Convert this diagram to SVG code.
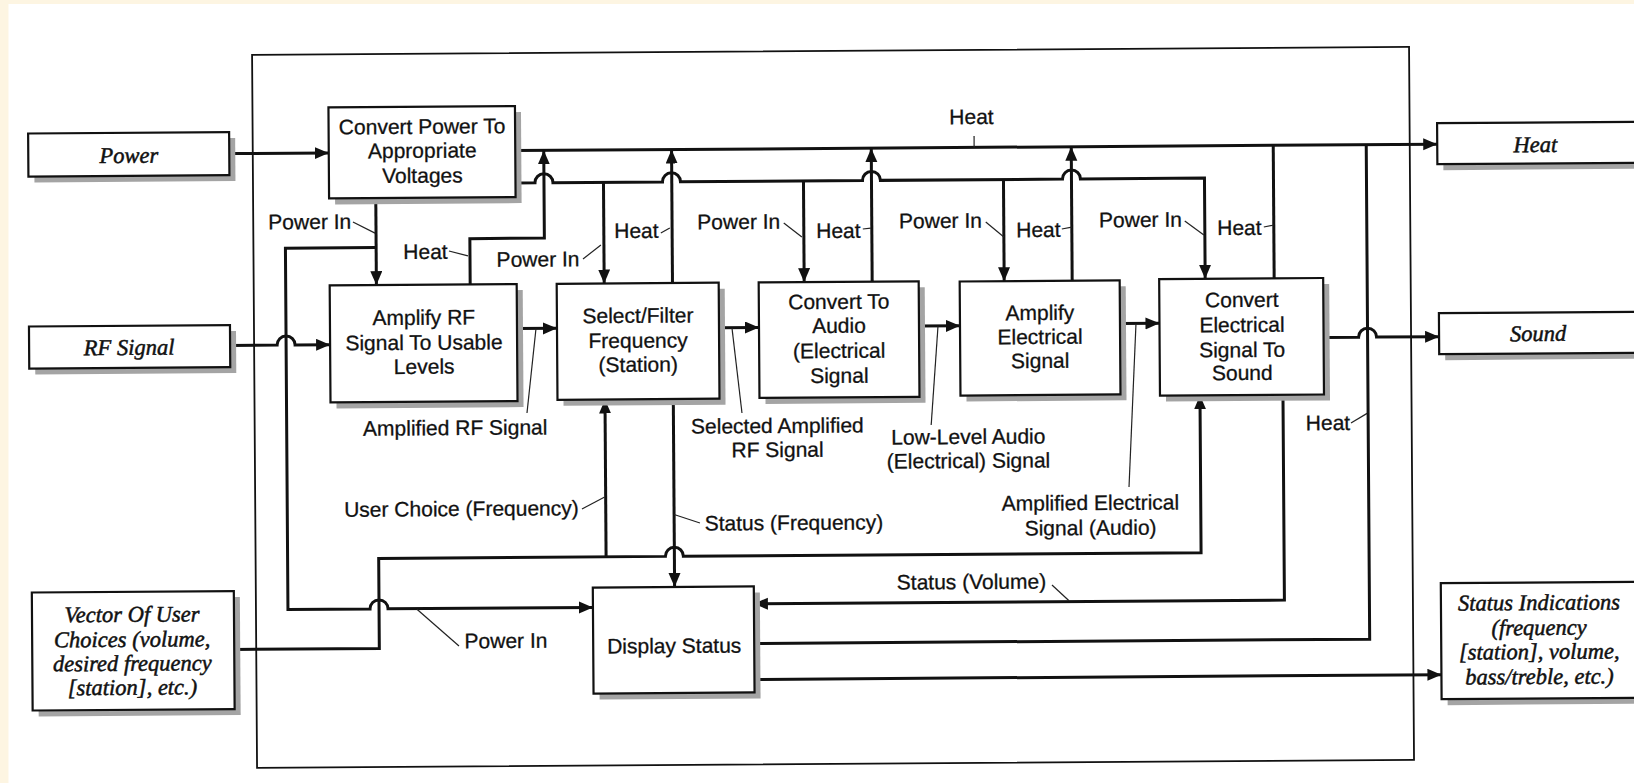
<svg xmlns="http://www.w3.org/2000/svg" width="1634" height="783" viewBox="0 0 1634 783">
<defs>
<style>
.bx{fill:#fff;stroke:#111;stroke-width:2.2}
.sh{fill:#a4a4a4}
.ob{fill:none;stroke:#111;stroke-width:1.8}
.ln{fill:none;stroke:#111;stroke-width:3}
.ld{fill:none;stroke:#222;stroke-width:1.2}
.t{font-family:"Liberation Sans",Arial,sans-serif;font-size:21px;fill:#111;stroke:#111;stroke-width:0.3;text-anchor:middle}
.ti{font-family:"Liberation Serif","Times New Roman",serif;font-style:italic;font-size:22.5px;fill:#111;stroke:#111;stroke-width:0.5;text-anchor:middle}
</style>
<marker id="ah" markerUnits="userSpaceOnUse" markerWidth="16" markerHeight="14" refX="14" refY="6" orient="auto"><path d="M0,0 L14,6 L0,12 z" fill="#111"/></marker>
</defs>
<rect x="0" y="0" width="1634" height="783" fill="#fdf5e2"/>
<rect x="8.5" y="4" width="1626" height="779" fill="#fff"/>
<g transform="rotate(-0.4 820 400)">
<rect id="boundary" class="ob" x="254.5" y="51" width="1157" height="713"/>

<g id="connectors">
<path class="ln" d="M231 149.5 H330.5" marker-end="url(#ah)"/>
<path class="ln" d="M516.7 148.5 H1439" marker-end="url(#ah)"/>
<path class="ln" d="M516.7 180.8 H536.5 A9 9 0 0 1 554.5 180.8 H664 A9 9 0 0 1 682 180.8 H864 A9 9 0 0 1 882 180.8 H1064 A9 9 0 0 1 1082 180.8 H1206 V281.5" marker-end="url(#ah)"/>
<path class="ln" d="M377.2 195 V282" marker-end="url(#ah)"/>
<path class="ln" d="M605 180.8 V282" marker-end="url(#ah)"/>
<path class="ln" d="M805 180.8 V282" marker-end="url(#ah)"/>
<path class="ln" d="M1005 180.8 V282.5" marker-end="url(#ah)"/>
<path class="ln" d="M377.2 244.4 H286.5 V605.8 H368.6 A9 9 0 0 1 386.6 605.8 H591.5" marker-end="url(#ah)"/>
<path class="ln" d="M230.5 341.3 H277.5 A9 9 0 0 1 295.5 341.3 H330.5" marker-end="url(#ah)"/>
<path class="ln" d="M517.5 326.5 H557.5" marker-end="url(#ah)"/>
<path class="ln" d="M719.5 327 H759.5" marker-end="url(#ah)"/>
<path class="ln" d="M919.5 326.8 H960.5" marker-end="url(#ah)"/>
<path class="ln" d="M1120.5 325.7 H1160" marker-end="url(#ah)"/>
<path class="ln" d="M1324 341 H1359 A9 9 0 0 1 1377 341 H1439.5" marker-end="url(#ah)"/>
<path class="ln" d="M471 282 V236.2 H545.5 V148.5" marker-end="url(#ah)"/>
<path class="ln" d="M673.3 282 V148.5" marker-end="url(#ah)"/>
<path class="ln" d="M873 282 V148.5" marker-end="url(#ah)"/>
<path class="ln" d="M1073 282.5 V148.5" marker-end="url(#ah)"/>
<path class="ln" d="M1275 281.5 V148.5"/>
<path class="ln" d="M752.5 643 H1368 V148.5"/>
<path class="ln" d="M232.5 645.4 H377.6 V555.3 H664.3 A9 9 0 0 1 682.3 555.3 H1200 V398" marker-end="url(#ah)"/>
<path class="ln" d="M605 555.3 V398" marker-end="url(#ah)"/>
<path class="ln" d="M673.3 398 V586" marker-end="url(#ah)"/>
<path class="ln" d="M1283 398 V603.3 H752.5" marker-end="url(#ah)"/>
<path class="ln" d="M752.5 679 H1439.5" marker-end="url(#ah)"/>
<path class="ld" d="M354.2 218.7 L376.2 230"/>
<path class="ld" d="M450 248.4 L469 253.5"/>
<path class="ld" d="M584 257.3 L602 243.5"/>
<path class="ld" d="M662 231.9 L671 227"/>
<path class="ld" d="M785 222.7 L803 236.9"/>
<path class="ld" d="M864 229.3 L872 228.4"/>
<path class="ld" d="M987 223.2 L1005 238.3"/>
<path class="ld" d="M1063 230.7 L1073 228.8"/>
<path class="ld" d="M1186 223.6 L1205 237.7"/>
<path class="ld" d="M1265 230.1 L1275 228.2"/>
<path class="ld" d="M975.9 137 L975.9 148.5"/>
<path class="ld" d="M526.9 411 L536.5 326.5"/>
<path class="ld" d="M732.5 327.5 L741.9 412.5"/>
<path class="ld" d="M938.5 327 L931 425.8"/>
<path class="ld" d="M1136.5 326 L1128.4 489.2"/>
<path class="ld" d="M581.2 507.3 L604 495.5"/>
<path class="ld" d="M699.1 522.2 L673.3 513.5"/>
<path class="ld" d="M1050.7 586.6 L1067.6 602.5"/>
<path class="ld" d="M457.3 643.5 L415.5 606.5"/>
<path class="ld" d="M1350.8 426.7 L1367 417.2"/>
<text class="t" x="311" y="225.5">Power In</text>
<text class="t" x="426.5" y="256.2">Heat</text>
<text class="t" x="539" y="264.5">Power In</text>
<text class="t" x="637.6" y="236.7">Heat</text>
<text class="t" x="740" y="228.4">Power In</text>
<text class="t" x="839.6" y="238.1">Heat</text>
<text class="t" x="941.7" y="228.8">Power In</text>
<text class="t" x="1039.6" y="238.5">Heat</text>
<text class="t" x="1141.7" y="229.2">Power In</text>
<text class="t" x="1240.6" y="237.9">Heat</text>
<text class="t" x="973.4" y="125.1">Heat</text>
<text class="t" x="455" y="432.5">Amplified RF Signal</text>
<text class="t" x="777.2" y="432.7">Selected Amplified</text>
<text class="t" x="777.2" y="456.7">RF Signal</text>
<text class="t" x="968.1" y="445">Low-Level Audio</text>
<text class="t" x="968.1" y="469">(Electrical) Signal</text>
<text class="t" x="1089.7" y="511.9">Amplified Electrical</text>
<text class="t" x="1089.7" y="536.9">Signal (Audio)</text>
<text class="t" x="460.7" y="513.5">User Choice (Frequency)</text>
<text class="t" x="793.1" y="529.8">Status (Frequency)</text>
<text class="t" x="970.2" y="590.1">Status (Volume)</text>
<text class="t" x="504.3" y="645.8">Power In</text>
<text class="t" x="1327.8" y="433.6">Heat</text>
</g>

<g id="in-power"><rect class="sh" x="36" y="134" width="201" height="43"/><rect class="bx" x="30" y="128" width="201" height="43"/><text class="ti" x="130.5" y="158">Power</text></g>
<g id="in-rf"><rect class="sh" x="35.5" y="327" width="201" height="42"/><rect class="bx" x="29.5" y="321" width="201" height="42"/><text class="ti" x="129.5" y="350">RF Signal</text></g>
<g id="in-vector"><rect class="sh" x="36.5" y="593" width="202" height="118"/><rect class="bx" x="30.5" y="587" width="202" height="118"/>
<text class="ti" x="130.5" y="617">Vector Of User</text><text class="ti" x="130.5" y="642">Choices (volume,</text><text class="ti" x="130.5" y="666">desired frequency</text><text class="ti" x="130.5" y="690">[station], etc.)</text></g>
<g id="out-heat"><rect class="sh" x="1445" y="133.5" width="220" height="41"/><rect class="bx" x="1439" y="127.5" width="220" height="41"/><text class="ti" x="1537" y="157">Heat</text></g>
<g id="out-sound"><rect class="sh" x="1445.5" y="323.5" width="220" height="41"/><rect class="bx" x="1439.5" y="317.5" width="220" height="41"/><text class="ti" x="1538.5" y="346">Sound</text></g>
<g id="out-status"><rect class="sh" x="1445.5" y="593.5" width="220" height="116"/><rect class="bx" x="1439.5" y="587.5" width="220" height="116"/>
<text class="ti" x="1537.5" y="615">Status Indications</text><text class="ti" x="1537.5" y="640">(frequency</text><text class="ti" x="1537.5" y="664">[station], volume,</text><text class="ti" x="1537.5" y="689">bass/treble, etc.)</text></g>

<g id="convert-power"><rect class="sh" x="336.5" y="110" width="186.5" height="91"/><rect class="bx" x="330.5" y="104" width="186.5" height="91"/>
<text class="t" x="424" y="131">Convert Power To</text><text class="t" x="424" y="155">Appropriate</text><text class="t" x="424" y="180">Voltages</text></g>
<g id="amplify-rf"><rect class="sh" x="336.5" y="288" width="187" height="117"/><rect class="bx" x="330.5" y="282" width="187" height="117"/>
<text class="t" x="424.4" y="322">Amplify RF</text><text class="t" x="424.4" y="347">Signal To Usable</text><text class="t" x="424.4" y="371">Levels</text></g>
<g id="select-filter"><rect class="sh" x="563.5" y="288" width="162" height="116"/><rect class="bx" x="557.5" y="282" width="162" height="116"/>
<text class="t" x="638.5" y="321.5">Select/Filter</text><text class="t" x="638.5" y="346.5">Frequency</text><text class="t" x="638.5" y="370.5">(Station)</text></g>
<g id="convert-audio"><rect class="sh" x="765.5" y="288" width="160" height="115.5"/><rect class="bx" x="759.5" y="282" width="160" height="115.5"/>
<text class="t" x="839.5" y="309">Convert To</text><text class="t" x="839.5" y="333">Audio</text><text class="t" x="839.5" y="358">(Electrical</text><text class="t" x="839.5" y="383">Signal</text></g>
<g id="amplify-elec"><rect class="sh" x="966.5" y="288.5" width="160" height="114"/><rect class="bx" x="960.5" y="282.5" width="160" height="114"/>
<text class="t" x="1040.5" y="321.5">Amplify</text><text class="t" x="1040.5" y="345.5">Electrical</text><text class="t" x="1040.5" y="369.5">Signal</text></g>
<g id="convert-sound"><rect class="sh" x="1166" y="287.5" width="164" height="116.5"/><rect class="bx" x="1160" y="281.5" width="164" height="116.5"/>
<text class="t" x="1242.5" y="310">Convert</text><text class="t" x="1242.5" y="335">Electrical</text><text class="t" x="1242.5" y="360">Signal To</text><text class="t" x="1242.5" y="383">Sound</text></g>
<g id="display-status"><rect class="sh" x="597.5" y="592" width="161" height="106"/><rect class="bx" x="591.5" y="586" width="161" height="106"/>
<text class="t" x="672.5" y="652">Display Status</text></g>
</g>
</svg>
